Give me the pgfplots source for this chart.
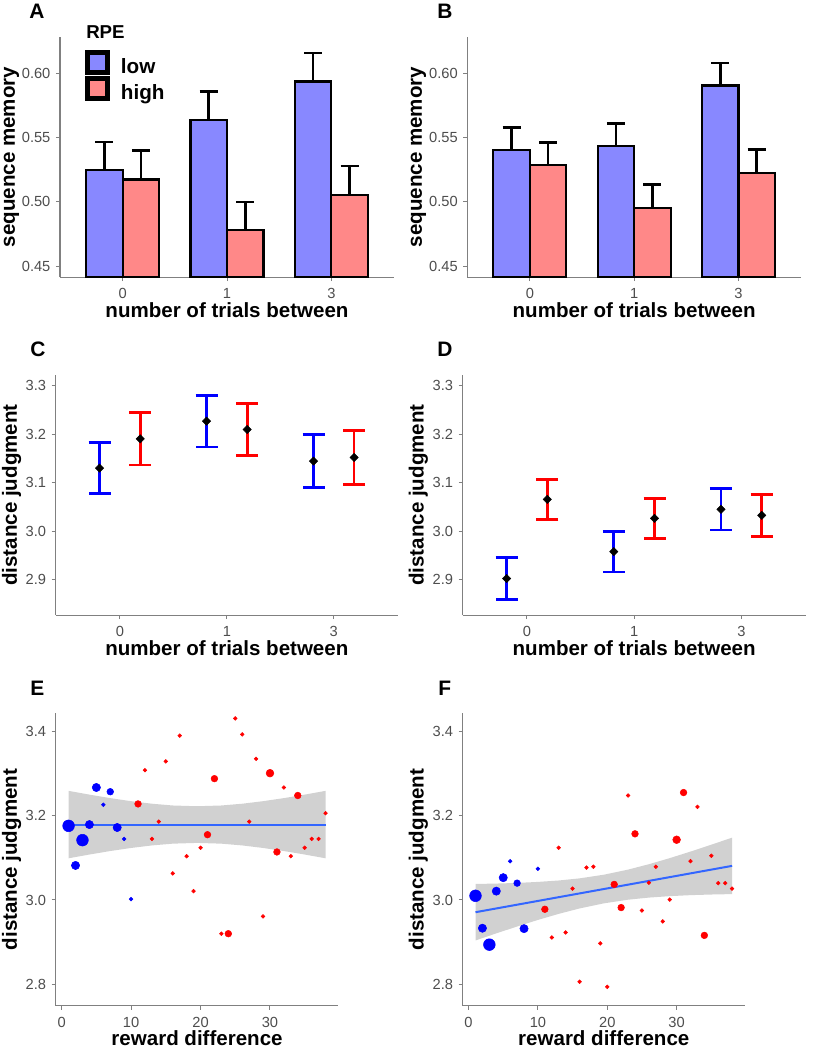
\documentclass[border=0pt]{standalone}
\usepackage{fontspec}
\setmainfont{Liberation Sans}
\usepackage{pgfplots}
\pgfplotsset{compat=1.18}

\definecolor{lowc}{RGB}{136,136,255}
\definecolor{highc}{RGB}{255,136,136}
\definecolor{ptblue}{RGB}{0,0,255}
\definecolor{ptred}{RGB}{255,0,0}
\definecolor{fitblue}{RGB}{51,102,255}
\definecolor{axisgray}{RGB}{128,128,128}
\definecolor{ticktext}{RGB}{77,77,77}
\definecolor{ribbon}{RGB}{153,153,153}

\pgfdeclareplotmark{rhomb}{%
  \pgfpathmoveto{\pgfqpoint{0pt}{\pgfplotmarksize}}%
  \pgfpathlineto{\pgfqpoint{\pgfplotmarksize}{0pt}}%
  \pgfpathlineto{\pgfqpoint{0pt}{-\pgfplotmarksize}}%
  \pgfpathlineto{\pgfqpoint{-\pgfplotmarksize}{0pt}}%
  \pgfpathclose\pgfusepathqfillstroke}

\pgfplotsset{
  panel/.style={
    scale only axis,
    axis lines=left,
    axis line style={-, draw=axisgray, line width=0.75pt},
    tick style={draw=axisgray, line width=0.75pt},
    major tick length=3pt,
    tick align=outside,
    ticklabel style={font=\fontsize{11}{13}\selectfont, text=ticktext},
    xticklabel style={anchor=north, inner sep=0pt},
    yticklabel style={anchor=east, inner sep=0pt},
    xticklabel shift=5.5pt,
    yticklabel shift=4pt,
    label style={font=\fontsize{15.4}{18}\selectfont\bfseries},
    xlabel style={at={(axis description cs:0.5,0)}, anchor=base, yshift=-30pt},
    ylabel style={anchor=center},
  },
  pts/.style 2 args={only marks, mark=*, mark size=#2, draw=#1, fill=#1, mark options={draw=#1, fill=#1}},
  membar/.style={fill=#1, draw=black, line width=1.6pt,
    error bars/.cd, y dir=plus, y explicit,
    error bar style={line width=2pt, black},
    error mark options={rotate=90, mark size=6.75pt, line width=2pt, black}},
  distpt/.style={only marks, mark=rhomb, mark size=3.1pt,
    mark options={draw=black, fill=black, line width=0.4pt},
    error bars/.cd, y dir=both, y explicit,
    error bar style={#1, line width=2pt},
    error mark options={rotate=90, #1, mark size=8.25pt, line width=2pt}},
}

\newcommand{\panelletter}[2]{\node[anchor=base west, inner sep=0pt, font=\fontsize{15.7}{18}\selectfont\bfseries] at #1 {#2};}

\begin{document}
\begin{tikzpicture}
\useasboundingbox (0,0) rectangle (619.5pt,-787.5pt);

% ---------------- A ----------------
\begin{axis}[panel, at={(45pt,-27.75pt)}, anchor=north west,
  width=250.5pt, height=180pt,
  xmin=-0.6, xmax=2.6, ymin=0.4415, ymax=0.6285,
  xtick={0,1,2}, xticklabels={0,1,3},
  ytick={0.45,0.5,0.55,0.6}, yticklabels={0.45,0.50,0.55,0.60},
  xlabel={number of trials between}, ylabel={sequence memory},
  ylabel style={at={(axis description cs:-0.1452,0.5)}},
  ybar, bar width=0.35, bar shift=0pt,
  legend style={at={(axis description cs:0.075,0.946)}, anchor=north west,
    draw=none, fill=none, inner sep=0pt, row sep=-2pt, column sep=6pt,
    font=\fontsize{15.5}{18}\selectfont\bfseries},
  legend cell align=left,
]
\addplot[legend image code/.code={\draw[fill=lowc, draw=black, line width=3.75pt] (0pt,-4pt) rectangle (15pt,11pt);},
  membar=lowc]
  coordinates {(-0.175,0.5248) +- (0,0.0219) (0.825,0.5640) +- (0,0.0220) (1.825,0.5938) +- (0,0.0222)};
\addlegendentry{low}
\addplot[legend image code/.code={\draw[fill=highc, draw=black, line width=3.75pt] (0pt,-4pt) rectangle (15pt,11pt);},
  membar=highc]
  coordinates {(0.175,0.5175) +- (0,0.0225) (1.175,0.4778) +- (0,0.0222) (2.175,0.5057) +- (0,0.0223)};
\addlegendentry{high}
\end{axis}
\node[anchor=base west, inner sep=0pt, font=\fontsize{14}{16}\selectfont\bfseries] at (64.5pt,-28.7pt) {RPE};

% ---------------- B ----------------
\begin{axis}[panel, at={(350.5pt,-27.75pt)}, anchor=north west,
  width=250.3pt, height=180pt,
  xmin=-0.6, xmax=2.6, ymin=0.4415, ymax=0.6285,
  xtick={0,1,2}, xticklabels={0,1,3},
  ytick={0.45,0.5,0.55,0.6}, yticklabels={0.45,0.50,0.55,0.60},
  xlabel={number of trials between}, ylabel={sequence memory},
  ylabel style={at={(axis description cs:-0.1462,0.5)}},
  ybar, bar width=0.35, bar shift=0pt,
]
\addplot[membar=lowc]
  coordinates {(-0.175,0.5402) +- (0,0.0178) (0.825,0.5433) +- (0,0.0176) (1.825,0.5907) +- (0,0.0175)};
\addplot[membar=highc]
  coordinates {(0.175,0.5286) +- (0,0.0176) (1.175,0.4953) +- (0,0.0184) (2.175,0.5228) +- (0,0.0179)};
\end{axis}

% ---------------- C ----------------
\begin{axis}[panel, at={(41.8pt,-281.25pt)}, anchor=north west,
  width=256.7pt, height=180pt,
  xmin=-0.6, xmax=2.6, ymin=2.8275, ymax=3.3225,
  xtick={0,1,2}, xticklabels={0,1,3},
  ytick={2.9,3.0,3.1,3.2,3.3}, yticklabels={2.9,3.0,3.1,3.2,3.3},
  xlabel={number of trials between}, ylabel={distance judgment},
  ylabel style={at={(axis description cs:-0.1291,0.5)}},
]
\addplot[distpt=ptblue] coordinates {(-0.19,3.1305) +- (0,0.053) (0.81,3.2273) +- (0,0.053) (1.81,3.1449) +- (0,0.0545)};
\addplot[distpt=ptred] coordinates {(0.19,3.1909) +- (0,0.054) (1.19,3.2101) +- (0,0.053) (2.19,3.1525) +- (0,0.0555)};
\end{axis}

% ---------------- D ----------------
\begin{axis}[panel, at={(347pt,-281.25pt)}, anchor=north west,
  width=257.25pt, height=180pt,
  xmin=-0.6, xmax=2.6, ymin=2.8275, ymax=3.3225,
  xtick={0,1,2}, xticklabels={0,1,3},
  ytick={2.9,3.0,3.1,3.2,3.3}, yticklabels={2.9,3.0,3.1,3.2,3.3},
  xlabel={number of trials between}, ylabel={distance judgment},
  ylabel style={at={(axis description cs:-0.1289,0.5)}},
]
\addplot[distpt=ptblue] coordinates {(-0.19,2.9027) +- (0,0.043) (0.81,2.9583) +- (0,0.042) (1.81,3.0455) +- (0,0.0425)};
\addplot[distpt=ptred] coordinates {(0.19,3.0660) +- (0,0.041) (1.19,3.0269) +- (0,0.0415) (2.19,3.0331) +- (0,0.043)};
\end{axis}

% ---------------- E ----------------
\begin{axis}[panel, at={(41.8pt,-535pt)}, anchor=north west,
  width=212pt, height=219.3pt,
  xmin=-0.85, xmax=39.85, ymin=2.749, ymax=3.443,
  xtick={0,10,20,30}, xticklabels={0,10,20,30},
  ytick={2.8,3.0,3.2,3.4}, yticklabels={2.8,3.0,3.2,3.4},
  xlabel={reward difference}, ylabel={distance judgment},
  ylabel style={at={(axis description cs:-0.1564,0.5)}},
]
% high-RPE (red) points, by size
\addplot[pts={ptred}{1.4pt}] coordinates {(12,3.308) (13,3.145) (14,3.186) (15,3.329) (16,3.063) (17,3.390) (18,3.104) (19,3.021) (20,3.124) (23,2.920) (25,3.431) (26,3.393) (27,3.186) (28,3.335) (29,2.961) (32,3.267) (33,3.104) (35,3.124) (36,3.145) (37,3.145) (38,3.206)};
\addplot[pts={ptred}{2.5pt}] coordinates {(11,3.228) (21,3.155) (22,3.288) (24,2.920) (31,3.114) (34,3.248)};
\addplot[pts={ptred}{2.9pt}] coordinates {(30,3.301)};
% low-RPE (blue) points, by size
\addplot[pts={ptblue}{1.4pt}] coordinates {(6,3.226) (9,3.145) (10,3.002)};
\addplot[pts={ptblue}{2.5pt}] coordinates {(7,3.257)};
\addplot[pts={ptblue}{3.1pt}] coordinates {(2,3.082) (4,3.179) (5,3.267) (8,3.172)};
\addplot[pts={ptblue}{4.4pt}] coordinates {(1,3.176) (3,3.142)};
% confidence band and fit
\addplot[fill=ribbon, fill opacity=0.45, draw=none] coordinates {(1,3.259) (4,3.2501) (7,3.2418) (10,3.2345) (13,3.2285) (16,3.2243) (19.5,3.2225) (23,3.2243) (26,3.2285) (29,3.2345) (32,3.2418) (35,3.2501) (38,3.259)
 (38,3.099) (35,3.1079) (32,3.1162) (29,3.1235) (26,3.1295) (23,3.1337) (19.5,3.1355) (16,3.1337) (13,3.1295) (10,3.1235) (7,3.1162) (4,3.1079) (1,3.099)} -- cycle;
\addplot[fitblue, line width=1.5pt] coordinates {(1,3.179) (38,3.179)};
\end{axis}

% ---------------- F ----------------
\begin{axis}[panel, at={(347pt,-535pt)}, anchor=north west,
  width=211.7pt, height=219.3pt,
  xmin=-0.85, xmax=39.85, ymin=2.749, ymax=3.443,
  xtick={0,10,20,30}, xticklabels={0,10,20,30},
  ytick={2.8,3.0,3.2,3.4}, yticklabels={2.8,3.0,3.2,3.4},
  xlabel={reward difference}, ylabel={distance judgment},
  ylabel style={at={(axis description cs:-0.1566,0.5)}},
]
\addplot[pts={ptred}{1.4pt}] coordinates {(12,2.911) (13,3.124) (14,2.923) (15,3.027) (16,2.806) (17,3.077) (18,3.079) (19,2.897) (20,2.794) (23,3.248) (25,2.975) (26,3.041) (27,3.079) (28,2.949) (29,3.001) (32,3.092) (33,3.221) (35,3.105) (36,3.040) (37,3.040) (38,3.027)};
\addplot[pts={ptred}{2.5pt}] coordinates {(11,2.978) (21,3.037) (22,2.982) (24,3.157) (31,3.255) (34,2.916)};
\addplot[pts={ptred}{2.9pt}] coordinates {(30,3.143)};
\addplot[pts={ptblue}{1.4pt}] coordinates {(6,3.092) (10,3.074)};
\addplot[pts={ptblue}{2.5pt}] coordinates {(7,3.040)};
\addplot[pts={ptblue}{3.1pt}] coordinates {(2,2.933) (4,3.021) (5,3.053) (8,2.932)};
\addplot[pts={ptblue}{4.4pt}] coordinates {(1,3.010) (3,2.894)};
\addplot[fill=ribbon, fill opacity=0.45, draw=none] coordinates {(1,3.038) (4,3.039) (7,3.0405) (10,3.0429) (13,3.0463) (16,3.0513) (19.5,3.060) (23,3.0721) (26,3.0849) (29,3.0993) (32,3.1149) (35,3.1312) (38,3.148)
 (38,3.014) (35,3.0130) (32,3.0115) (29,3.0091) (26,3.0057) (23,3.0007) (19.5,2.992) (16,2.9799) (13,2.9671) (10,2.9527) (7,2.9371) (4,2.9208) (1,2.904)} -- cycle;
\addplot[fitblue, line width=1.5pt] coordinates {(1,2.971) (38,3.081)};
\end{axis}

\panelletter{(21.75pt,-13.5pt)}{A}
\panelletter{(327.75pt,-13.5pt)}{B}
\panelletter{(22.5pt,-267pt)}{C}
\panelletter{(327.75pt,-267pt)}{D}
\panelletter{(22.5pt,-521.25pt)}{E}
\panelletter{(328.5pt,-521.25pt)}{F}
\end{tikzpicture}
\end{document}
